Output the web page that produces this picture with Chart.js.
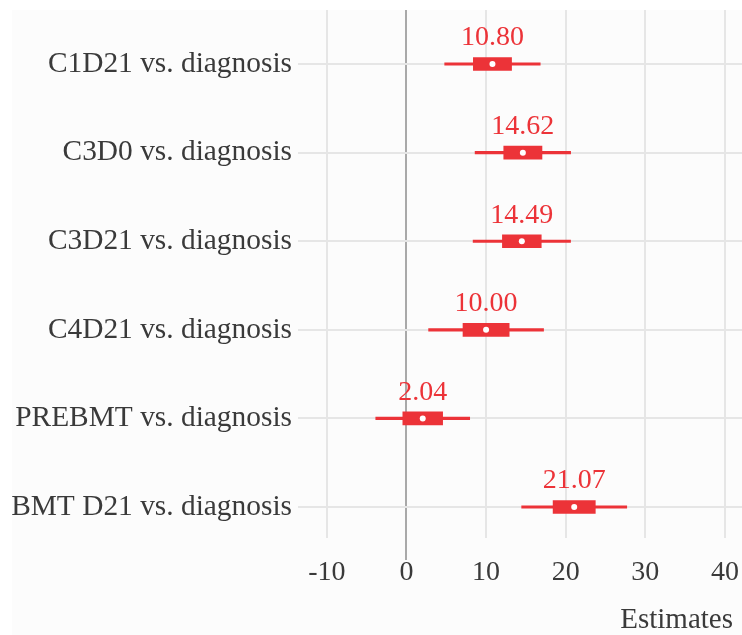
<!DOCTYPE html>
<html>
<head>
<meta charset="utf-8">
<script src="https://cdn.jsdelivr.net/npm/chart.js@4/dist/chart.umd.min.js"></script>
<style>
  html, body { margin: 0; padding: 0; background: #ffffff; }
  #wrap { width: 742px; height: 635px; }
</style>
</head>
<body>
<div id="wrap"><canvas id="forest" width="742" height="635"></canvas></div>
<script>
// Model terms, top to bottom
const terms = [
  'C1D21 vs. diagnosis',
  'C3D0 vs. diagnosis',
  'C3D21 vs. diagnosis',
  'C4D21 vs. diagnosis',
  'PREBMT vs. diagnosis',
  'BMT D21 vs. diagnosis'
];
// Point estimates
const estimates = [10.80, 14.62, 14.49, 10.00, 2.04, 21.07];
// Outer interval (whiskers)
const ciLow  = [4.80, 8.62, 8.37, 2.78, -3.86, 14.47];
const ciHigh = [16.80, 20.62, 20.61, 17.22, 7.94, 27.67];
// Inner interval (box)
const boxLow  = [8.40, 12.22, 12.05, 7.10, -0.46, 18.42];
const boxHigh = [13.20, 17.02, 16.93, 12.90, 4.54, 23.72];
// X axis ticks
const xTicks = [-10, 0, 10, 20, 30, 40];

const RED = '#ec3338';
const GRID = '#e6e6e6';
const ZERO = '#a9a9a9';
const TEXT = '#3a3a3a';
const SERIF = '"Liberation Serif", "Times New Roman", serif';

const rows = terms.map((t, i) => i);

const panelBackground = {
  id: 'panelBackground',
  beforeDraw(chart) {
    const c = chart.ctx;
    c.save();
    c.fillStyle = '#ffffff';
    c.fillRect(0, 0, chart.width, chart.height);
    c.fillStyle = '#fcfcfc';
    c.fillRect(12, 10, chart.width - 12, chart.height - 10);
    c.restore();
  }
};

const valueLabels = {
  id: 'valueLabels',
  afterDatasetsDraw(chart) {
    const c = chart.ctx;
    const xs = chart.scales.x, ys = chart.scales.y;
    c.save();
    c.font = '28px ' + SERIF;
    c.fillStyle = RED;
    c.textAlign = 'center';
    c.textBaseline = 'middle';
    estimates.forEach((v, i) => {
      c.fillText(v.toFixed(2), xs.getPixelForValue(v), ys.getPixelForValue(i) - 26);
    });
    c.restore();
  },
  afterDraw(chart) {
    const c = chart.ctx;
    c.save();
    c.font = '29px ' + SERIF;
    c.fillStyle = TEXT;
    c.textAlign = 'right';
    c.textBaseline = 'middle';
    c.fillText('Estimates', 733, 620);
    c.restore();
  }
};

new Chart(document.getElementById('forest'), {
  type: 'bar',
  data: {
    datasets: [
      {
        type: 'scatter',
        data: rows.map(i => ({ x: estimates[i], y: i })),
        pointRadius: 3,
        pointHoverRadius: 3,
        pointBackgroundColor: '#ffffff',
        pointBorderWidth: 0,
        order: 0
      },
      {
        type: 'bar',
        indexAxis: 'y',
        data: rows.map(i => ({ y: i, x: [boxLow[i], boxHigh[i]] })),
        backgroundColor: RED,
        borderWidth: 0,
        barThickness: 13,
        grouped: false,
        order: 1
      },
      {
        type: 'bar',
        indexAxis: 'y',
        data: rows.map(i => ({ y: i, x: [ciLow[i], ciHigh[i]] })),
        backgroundColor: RED,
        borderWidth: 0,
        barThickness: 2.5,
        grouped: false,
        order: 2
      }
    ]
  },
  options: {
    indexAxis: 'y',
    responsive: false,
    animation: false,
    devicePixelRatio: 1,
    layout: { autoPadding: false, padding: { top: 10, left: 0, right: 0, bottom: 0 } },
    plugins: { legend: { display: false }, tooltip: { enabled: false } },
    scales: {
      x: {
        type: 'linear',
        position: 'bottom',
        offset: false,
        min: -12.75,
        max: 42.15,
        afterBuildTicks(scale) { scale.ticks = xTicks.map(v => ({ value: v })); },
        afterFit(scale) {
          scale.height = 97;
          scale.paddingLeft = 0;
          scale.paddingRight = 0;
        },
        border: { display: false },
        grid: {
          offset: false,
          color: ctx => (ctx.tick && ctx.tick.value === 0 ? ZERO : GRID),
          lineWidth: 2,
          tickLength: 22,
          tickColor: ctx => (ctx.tick && ctx.tick.value === 0 ? ZERO : 'rgba(0,0,0,0)'),
          tickWidth: 2
        },
        ticks: {
          font: { family: SERIF, size: 28 },
          color: TEXT,
          padding: -4,
          maxRotation: 0,
          callback: v => String(v)
        }
      },
      y: {
        type: 'linear',
        position: 'left',
        reverse: true,
        offset: false,
        min: -0.61,
        max: 5.35,
        afterBuildTicks(scale) { scale.ticks = rows.map(v => ({ value: v })); },
        afterFit(scale) {
          scale.width = 305;
          scale.paddingTop = 0;
          scale.paddingBottom = 0;
        },
        border: { display: false },
        grid: {
          offset: false,
          color: GRID,
          lineWidth: 2,
          tickLength: 7,
          tickColor: GRID
        },
        ticks: {
          font: { family: SERIF, size: 29.4 },
          color: TEXT,
          padding: 6,
          callback: v => terms[v]
        }
      }
    }
  },
  plugins: [panelBackground, valueLabels]
});
</script>
</body>
</html>
